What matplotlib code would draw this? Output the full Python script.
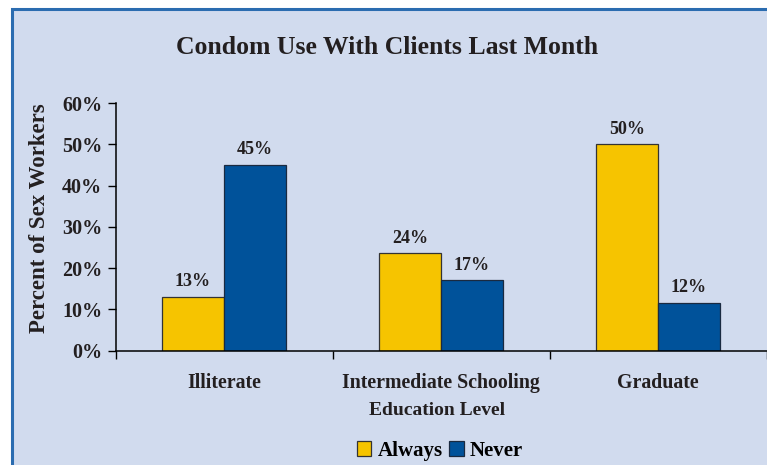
import numpy as np
import matplotlib.pyplot as plt
from matplotlib.patches import Rectangle

# Données
categories = ['Illiterate', 'Intermediate Schooling', 'Graduate']
always = [13, 23.6, 50]
never = [45, 17, 11.6]
y_ticks = [0, 10, 20, 30, 40, 50, 60]

bg = '#d1dbee'
yellow = '#f6c400'
blue = '#00529a'
txt = '#231f20'
serif = 'Liberation Serif'

plt.rcParams['font.family'] = serif
plt.rcParams['font.weight'] = 'bold'

fig = plt.figure(figsize=(7.67, 4.65), dpi=100)
fig.patch.set_facecolor('white')

# Cadre de fond avec bordure bleue
W, H = 767, 465
fig.patches.append(Rectangle((12 / W, -0.1), 1.2, 1.1 - 9 / H, transform=fig.transFigure,
                             facecolor=bg, edgecolor='#2b6cb0', linewidth=2.2, zorder=-5))

ax = fig.add_axes([115.5 / W, 1 - 350.5 / H, 651 / W, 247.5 / H])
ax.set_facecolor('none')
ax.set_zorder(2)

x = np.arange(len(categories))
w = 0.286
b1 = ax.bar(x - w / 2, always, w, color=yellow, edgecolor='#333333', linewidth=0.9, label='Always')
b2 = ax.bar(x + w / 2, never, w, color=blue, edgecolor='#1a2a40', linewidth=0.9, label='Never')

for bars, vals in ((b1, always), (b2, never)):
    for r, v in zip(bars, vals):
        ax.text(r.get_x() + r.get_width() / 2, v + 1.6, '%d%%' % round(v),
                ha='center', va='bottom', fontsize=13, color=txt, fontweight='bold')

ax.set_xlim(-0.5, 2.5)
ax.set_ylim(0, 60)
ax.set_yticks(y_ticks)
ax.set_yticklabels(['%d%%' % t for t in y_ticks], fontsize=14.5, color=txt, fontweight='bold')
ax.set_xticks([-0.5, 0.5, 1.5, 2.5])
ax.set_xticklabels([])
ax.set_xticks(x, minor=True)
ax.set_xticklabels(categories, minor=True, fontsize=14.3, color=txt, fontweight='bold')
ax.tick_params(axis='x', which='minor', length=0, pad=16)
ax.tick_params(axis='x', which='major', length=6, width=1, direction='out')
ax.tick_params(axis='y', length=6, width=1, direction='out', pad=3.5)

for s in ['top', 'right']:
    ax.spines[s].set_visible(False)
for s in ['left', 'bottom']:
    ax.spines[s].set_linewidth(1.1)
    ax.spines[s].set_color('black')

fig.text(387 / W, 1 - 48 / H, 'Condom Use With Clients Last Month', ha='center', va='center',
         fontsize=18.5, fontweight='bold', color=txt)
fig.text(40 / W, 1 - 218 / H, 'Percent of Sex Workers', ha='center', va='center', rotation=90,
         fontsize=16.5, fontweight='bold', color=txt)
fig.text(437 / W, 1 - 410 / H, 'Education Level', ha='center', va='center',
         fontsize=14, fontweight='bold', color=txt)

fig.legend(handles=[b1, b2], loc='center', bbox_to_anchor=(440 / W, 1 - 451 / H), ncol=2,
           frameon=False, fontsize=15, handlelength=0.7, handleheight=0.7,
           handletextpad=0.3, columnspacing=0.3)

fig.savefig('out.png', dpi=100, facecolor=fig.get_facecolor())
